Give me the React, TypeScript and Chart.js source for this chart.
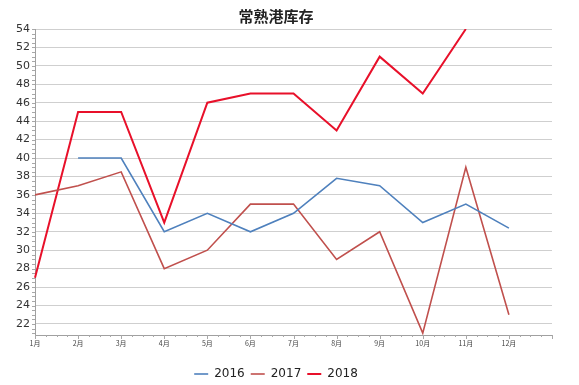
import React, { useEffect, useRef } from "react";
import { Chart, registerables } from "chart.js";

Chart.register(...registerables);

const months = ["1月", "2月", "3月", "4月", "5月", "6月", "7月", "8月", "9月", "10月", "11月", "12月", ""];
const s2016 = [null, 40, 40, 32, 34, 32, 34, 37.8, 37, 33, 35, 32.4];
const s2017 = [36, 37, 38.5, 28, 30, 35, 35, 29, 32, 21, 39, 23];
const s2018 = [27, 45, 45, 33, 46, 47, 47, 43, 51, 47, 54, null];
const yTickValues = [22, 24, 26, 28, 30, 32, 34, 36, 38, 40, 42, 44, 46, 48, 50, 52, 54];
const seriesNames = ["2016", "2017", "2018"];
const seriesColors = ["#4F81BD", "#C0504D", "#E8102A"];
const title = "常熟港库存";

export default function App() {
  const ref = useRef<HTMLCanvasElement | null>(null);
  useEffect(() => {
    document.body.style.margin = "0";
    const ctx = ref.current!;
    const minorTicks = {
      id: "minorTicks",
      afterDraw(chart: any) {
        const c = chart.ctx;
        const y = chart.scales.y;
        const x = chart.scales.x;
        c.save();
        c.strokeStyle = "#a8a8a8";
        c.lineWidth = 1;
        for (let v = 21; v <= y.max; v += 0.5) {
          const py = Math.round(y.getPixelForValue(v)) + 0.5;
          c.beginPath();
          c.moveTo(x.left - 3, py);
          c.lineTo(x.left, py);
          c.stroke();
        }
        for (let i = 0; i <= x.max * 4; i++) {
          const px = Math.round(x.getPixelForValue(i / 4)) + 0.5;
          c.beginPath();
          c.moveTo(px, y.bottom);
          c.lineTo(px, y.bottom + (i % 4 === 0 ? 4 : 2));
          c.stroke();
        }
        c.restore();
      },
    };
    const chart = new Chart(ctx, {
      type: "line",
      data: {
        labels: months,
        datasets: [s2016, s2017, s2018].map((d, i) => ({
          label: seriesNames[i],
          data: d,
          borderColor: seriesColors[i],
          backgroundColor: seriesColors[i],
          borderWidth: i === 2 ? 2 : 1.6,
          pointRadius: 0,
          tension: 0,
          spanGaps: false,
        })),
      },
      options: {
        animation: false,
        responsive: false,
        maintainAspectRatio: false,
        layout: { padding: { left: 0, right: 27, top: 0, bottom: -5 } },
        plugins: {
          title: {
            display: true,
            text: title,
            color: "#222",
            font: { family: "'Noto Sans CJK SC', sans-serif", size: 15, weight: "bold" },
            padding: { top: 7, bottom: 4 },
          },
          legend: {
            position: "bottom",
            labels: {
              usePointStyle: true,
              pointStyle: "line",
              pointStyleWidth: 14,
              color: "#222",
              font: { family: "'DejaVu Sans', sans-serif", size: 12 },
              padding: 6,
              boxHeight: 10,
            },
          },
          tooltip: { enabled: false },
        },
        scales: {
          x: {
            type: "category",
            offset: false,
            grid: { display: false, drawTicks: false },
            border: { display: true, color: "#a0a0a0" },
            ticks: {
              color: "#444",
              font: { family: "'Noto Sans CJK SC', sans-serif", size: 7 },
              maxRotation: 0,
              autoSkip: false,
              padding: 4,
            },
            afterFit: (s: any) => {
              s.height = 27;
            },
          },
          y: {
            min: 20.8,
            max: 54,
            grid: { color: "#cfcfcf", drawTicks: false },
            border: { display: true, color: "#a0a0a0" },
            ticks: {
              color: "#333",
              font: { family: "'DejaVu Sans', sans-serif", size: 11 },
              padding: 5,
            },
            afterBuildTicks: (s: any) => {
              s.ticks = yTickValues.map((v) => ({ value: v }));
            },
            afterFit: (s: any) => {
              s.width = 35;
            },
          },
        },
      },
      plugins: [minorTicks],
    } as any);
    return () => chart.destroy();
  }, []);
  return (
    <div style={{ position: "absolute", left: 0, top: 0, width: 579, height: 385, background: "#fff" }}>
      <canvas ref={ref} width={579} height={385} />
    </div>
  );
}
